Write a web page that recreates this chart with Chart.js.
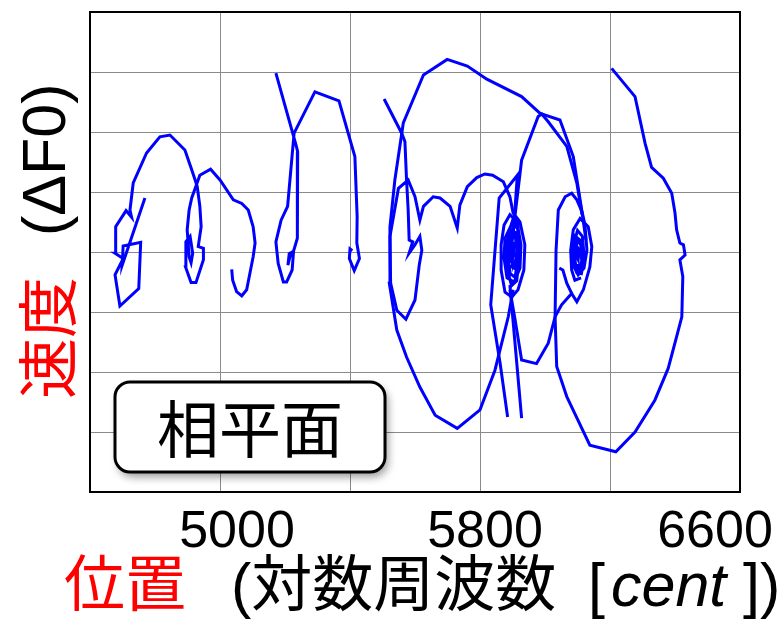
<!DOCTYPE html>
<html>
<head>
<meta charset="utf-8">
<script src="https://cdn.jsdelivr.net/npm/chart.js@4/dist/chart.umd.min.js"></script>
<style>
  html, body { margin: 0; padding: 0; background: #fff; }
  #phase { display: block; }
</style>
</head>
<body>
<canvas id="phase" width="782" height="621"></canvas>
<script>
// 位置 [cent] と 速度 (ΔF0) の相平面軌跡。点は [cent, 速度] の組
const xTickLabels = [5000, 5800, 6600];

const note1 = [
  [4769,9.0],[4699,-2.2],[4702,1.0],[4756,1.6],[4750,-6.1],[4692,-9.0],[4677,-3.8],[4702,-1.1],
  [4677,-0.2],[4679,4.2],[4711,6.9],[4728,5.8],[4723,7.0],[4733,11.5],[4774,16.5],[4815,19.2],
  [4846,19.5],[4892,17.0],[4913,13.7],[4930,10.9],[4938,7.6],[4942,4.2],[4933,0.9],[4949,0.6],
  [4949,-1.3],[4926,-5.1],[4911,-5.1],[4894,-2.5],[4895,1.7],[4908,2.6],[4916,-0.2],[4911,-1.8],
  [4905,-0.8],[4899,3.7],[4905,7.0],[4913,9.0],[4938,12.8],[4971,13.8],[5000,12.0],[5041,8.7],
  [5067,8.1],[5087,7.0],[5102,4.2],[5108,1.5],[5102,-0.8],[5082,-6.3],[5067,-7.3],[5051,-6.6],
  [5039,-4.7],[5036,-2.9]
];

const note2 = [
  [5172,29.8],[5234,17.8],[5239,16.7],[5238,2.3],[5226,0.1],[5213,-0.3],[5209,-2.2],[5215,-0.8],
  [5226,-0.1],[5222,-3.0],[5205,-5.0],[5195,-5.0],[5179,-1.9],[5172,1.7],[5188,5.3],[5208,7.6],
  [5228,19.8],[5292,26.7],[5366,25.2],[5415,15.9],[5422,5.9],[5421,1.5],[5429,-1.1],[5413,-3.1],
  [5398,-1.1],[5400,0.5],[5407,0.2]
];

const note3 = [
  [5505,25.5],[5559,19.8],[5569,18.4],[5574,12.0],[5579,7.0],[5582,2.0],[5593,1.7],[5582,-0.2],
  [5600,1.2],[5615,2.6],[5621,0.3],[5613,-2.2],[5600,-8.0],[5572,-11.2],[5544,-9.7],[5525,-5.2],
  [5523,2.6],[5549,10.6],[5579,12.0],[5600,9.2],[5615,5.3],[5626,7.6],[5656,9.2],[5677,9.0],
  [5708,7.6],[5730,4.0],[5738,7.8],[5761,10.9],[5790,12.4],[5815,13.0],[5839,12.8],[5872,11.7],
  [5892,9.2],[5902,6.5],
  [5923,5.0],[5938,1.2],[5935,-3.0],[5917,-6.3],[5898,-7.5],[5877,-6.7],[5865,-3.0],[5865,1.2],
  [5874,4.5],[5892,6.2],[5914,5.0],[5926,1.2],[5923,-2.7],[5905,-5.0],[5883,-4.3],[5874,-1.0],
  [5877,2.3],[5892,4.0],[5908,2.8],[5914,0],[5905,-2.7],[5889,-2.2],[5883,0.3],[5889,2.0],
  [5902,1.5],[5905,-0.5],[5895,-1.3],[5892,0.3],
  [5898,3.5],[5911,3.2],[5917,-1.0],[5908,-4.2],[5893,-3.6],[5884,-0.5],[5888,3.2],[5900,5.2],
  [5916,3.8],[5921,-0.8],[5913,-4.8],[5897,-5.6],[5882,-2.4],[5881,1.8],[5892,2.4],[5903,0.6],
  [5899,-1.8],[5894,-0.6],
  [5908,6.2],[5928,15.3],[5979,22.6],[5990,23.0],[6010,21.7],[6067,17.6],[6098,11.5],[6114,6.2]
];

const outerLoop = [
  [5902,-6.3],[5887,-10.8],[5846,-19.7],[5800,-26.3],[5730,-29.4],[5662,-27.2],[5615,-22.5],
  [5574,-17.5],[5544,-13.0],[5521,-5.2],[5523,4.2],[5538,12.0],[5564,21.5],[5626,29.5],[5699,32.1],
  [5761,31.0],[5821,28.8],[5928,25.9],[5985,23.1],[6046,22.0],[6087,15.9],[6113,7.0],[6126,2.0]
];

const dropA = [[5902,2.8],[5915,12.8],[5859,9.0],[5833,-8.8],[5862,-18.6],[5885,-27.5]];
const dropB = [[5892,-5.5],[5928,-27.7]];

const bridge = [
  [5892,-6.3],[5908,-11.3],[5928,-18.0],[5974,-18.6],[6010,-15.2],[6031,-10.8],[6051,-8.8],
  [6082,-6.9],[6098,-8.3],[6118,-6.3],[6138,-2.5],[6144,0.9],[6133,4.2],[6108,5.6],[6087,3.7],
  [6079,0.3],[6082,-3.0],[6092,-4.7],[6111,-4.3]
];

const hook = [[6044,-2.7],[6055,-3.0],[6067,-5.2],[6082,-6.9]];

const note4 = [
  [6205,30.6],[6277,25.9],[6308,18.1],[6328,14.1],[6364,12.3],[6390,9.8],[6400,6.5],[6405,3.7],
  [6415,1.5],[6426,1.2],[6431,-0.5],[6415,-1.3],[6424,-4.1],[6421,-10.8],[6405,-14.1],[6379,-19.4],
  [6338,-24.7],[6277,-30.0],[6218,-33.3],[6138,-32.2],[6067,-24.1],[6036,-19.1],[6031,-10.8],
  [6034,0.3],[6041,7.0],[6062,9.2],[6082,9.8],[6098,8.7],[6114,6.7],
  [6123,4.5],[6129,0.3],[6120,-2.7],[6102,-3.8],[6086,-2.2],[6083,0.7],[6092,2.7],[6108,2.0],
  [6117,0],[6111,-2.2],[6095,-2.3],[6089,-0.3],[6095,1.2],[6105,0.3],[6102,-1.3],[6095,-0.5],
  [6098,2.0],[6110,1.2],[6113,-1.5],[6103,-3.2],[6091,-1.6],[6090,1.6],[6100,3.6],[6115,2.6],
  [6121,-1.0],[6112,-3.6],[6097,-3.4],[6089,-0.8],[6096,0.8],[6103,-0.4]
];

const traces = [note1, note2, note3, outerLoop, dropA, dropB, bridge, hook, note4];

const LATIN = '"Liberation Sans", Arial, "Noto Sans CJK JP", sans-serif';
const CJK = '"Noto Sans CJK JP", "Noto Sans CJK SC", sans-serif';

const decor = {
  id: 'decor',
  afterDraw(chart) {
    const { ctx, chartArea: a, scales: { x } } = chart;
    ctx.save();

    // 枠
    ctx.strokeStyle = '#000';
    ctx.lineWidth = 2;
    ctx.strokeRect(a.left, a.top, a.right - a.left, a.bottom - a.top);

    // x 目盛ラベル
    const shift = [17, 5, -25];
    ctx.fillStyle = '#000';
    ctx.font = '52px ' + LATIN;
    ctx.textAlign = 'center';
    ctx.textBaseline = 'alphabetic';
    xTickLabels.forEach((v, i) => ctx.fillText(String(v), x.getPixelForValue(v) + shift[i], 547));

    // x 軸タイトル
    ctx.textAlign = 'left';
    ctx.font = '61px ' + CJK;
    ctx.fillStyle = '#ff0000';
    ctx.fillText('位置', 64, 606);
    ctx.fillStyle = '#000';
    ctx.font = '61px ' + LATIN;
    ctx.fillText('(対数周波数', 231, 606);
    ctx.fillText('[', 588, 606);
    ctx.font = 'italic 61px ' + LATIN;
    ctx.fillText('cent', 611, 606);
    ctx.font = '61px ' + LATIN;
    ctx.fillText(']', 743, 606);
    ctx.fillText(')', 760, 606);

    // y 軸タイトル
    ctx.save();
    ctx.translate(48, 0);
    ctx.rotate(-Math.PI / 2);
    ctx.textBaseline = 'middle';
    ctx.font = '61px ' + CJK;
    ctx.fillStyle = '#ff0000';
    ctx.fillText('速度', -399, 0);
    ctx.fillStyle = '#000';
    ctx.font = '61px ' + LATIN;
    ctx.fillText('(ΔF0)', -236, 0);
    ctx.restore();

    // 注記ボックス
    ctx.save();
    ctx.shadowColor = 'rgba(0,0,0,0.4)';
    ctx.shadowBlur = 8;
    ctx.shadowOffsetX = 3;
    ctx.shadowOffsetY = 5;
    ctx.fillStyle = '#fff';
    ctx.beginPath();
    ctx.roundRect(115, 382, 270, 90, 15);
    ctx.fill();
    ctx.restore();
    ctx.strokeStyle = '#000';
    ctx.lineWidth = 3;
    ctx.beginPath();
    ctx.roundRect(115, 382, 270, 90, 15);
    ctx.stroke();
    ctx.fillStyle = '#000';
    ctx.font = '62px ' + CJK;
    ctx.textAlign = 'center';
    ctx.textBaseline = 'middle';
    ctx.fillText('相平面', 250, 429);

    ctx.restore();
  }
};

new Chart(document.getElementById('phase'), {
  type: 'scatter',
  data: {
    datasets: traces.map(t => ({
      data: t.map(p => ({ x: p[0], y: p[1] })),
      showLine: true,
      borderColor: '#0000ff',
      borderWidth: 3,
      pointRadius: 0,
      pointHoverRadius: 0,
      fill: false,
      tension: 0
    }))
  },
  options: {
    responsive: false,
    animation: false,
    layout: { padding: { left: 90, top: 12, right: 42, bottom: 129 } },
    plugins: { legend: { display: false }, tooltip: { enabled: false } },
    scales: {
      x: {
        type: 'linear', min: 4600, max: 6600,
        ticks: { display: false, stepSize: 400 },
        grid: { color: '#8a8a8a', lineWidth: 1, drawTicks: false },
        border: { display: false }
      },
      y: {
        type: 'linear', min: -40, max: 40,
        ticks: { display: false, stepSize: 10 },
        grid: { color: '#8a8a8a', lineWidth: 1, drawTicks: false },
        border: { display: false }
      }
    }
  },
  plugins: [decor]
});
</script>
</body>
</html>
